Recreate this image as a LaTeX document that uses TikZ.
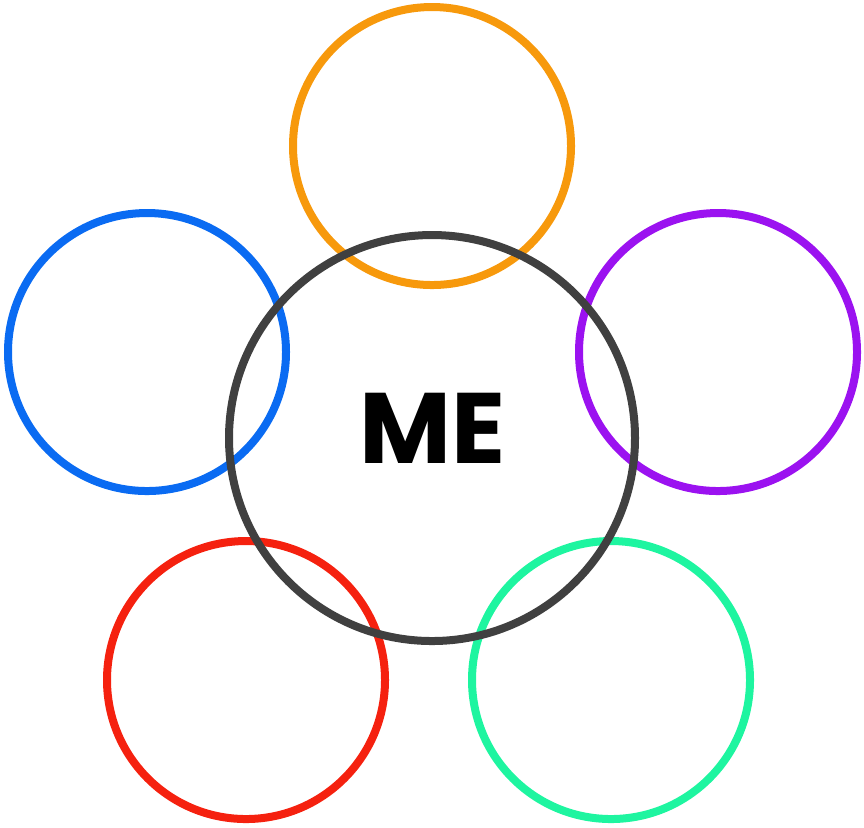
\documentclass[tikz,border=0pt]{standalone}
\usepackage{fontspec}
\setsansfont{Poppins}
\usepackage{tikz}
\usetikzlibrary{positioning}

\definecolor{meGray}{HTML}{404040}
\definecolor{ringOrange}{HTML}{F7990C}
\definecolor{ringBlue}{HTML}{0A6BF2}
\definecolor{ringPurple}{HTML}{9B12F0}
\definecolor{ringRed}{HTML}{F5210F}
\definecolor{ringGreen}{HTML}{1EF5A0}

\begin{document}
\begin{tikzpicture}[
  x=1cm, y=-1cm,
  ring/.style={draw, circle, line width=0.08cm, minimum size=2.78cm, inner sep=0pt},
  core/.style={draw=meGray, circle, line width=0.08cm, minimum size=4.06cm, inner sep=0pt},
  title/.style={font=\sffamily\bfseries\fontsize{28.5}{28.5}\selectfont, inner sep=0pt}
]
\useasboundingbox (0,0) rectangle (8.64,8.27);
% --- outer rings ---
\node[ring, draw=ringOrange] (top) at (4.32,1.46) {};
\node[ring, draw=ringBlue] (left) at (1.47,3.52) {};
\node[ring, draw=ringPurple] (right) at (7.18,3.52) {};
\node[ring, draw=ringRed] (botleft) at (2.46,6.80) {};
\node[ring, draw=ringGreen] (botright) at (6.11,6.80) {};
% --- centre ---
\node[core] (me) at (4.32,4.38) {};
\node[title] (melabel) at (4.33,4.28) {ME};
\end{tikzpicture}
\end{document}
